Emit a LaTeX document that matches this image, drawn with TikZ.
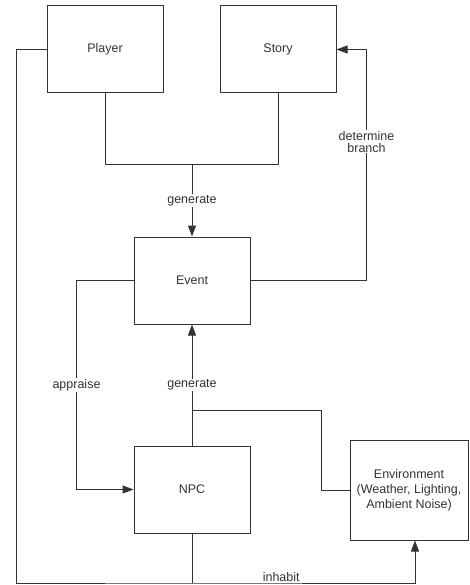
\documentclass[tikz,border=0pt]{standalone}
\usepackage{fontspec}
\setmainfont{Liberation Sans}
\usetikzlibrary{arrows.meta}
\definecolor{ink}{HTML}{333333}

\begin{document}
\begin{tikzpicture}[
  x=1pt, y=-1pt,
  font=\fontsize{12.5}{15}\selectfont,
  box/.style   = {draw=ink, line width=1pt, rectangle, minimum width=116pt,
                  minimum height=87pt, align=center, text=ink},
  envbox/.style = {box, minimum width=118pt, minimum height=100pt},
  wire/.style  = {draw=ink, line width=1pt},
  arr/.style   = {wire, -{Triangle[length=11pt,width=8pt]}},
  lbl/.style   = {fill=white, inner sep=1pt, text=ink, align=center,
                  font=\fontsize{12.5}{12}\selectfont},
]
\useasboundingbox (0,0) rectangle (469,585);

% --- boxes ---------------------------------------------------------------
\node[box] (player) at (105,49.5) {Player};
\node[box] (story)  at (278,49.5) {Story};
\node[box] (event)  at (192,280.5) {Event};
\node[box] (npc)    at (192,489.5) {NPC};
\node[envbox] (env) at (409,490) {Environment\\(Weather, Lighting,\\Ambient Noise)};

% --- junctions -----------------------------------------------------------
\coordinate (merge)  at (192,165);
\coordinate (envtap) at (192,410);
\coordinate (floor)  at (192,583);

% --- player + story generate event ---------------------------------------
\draw[wire] (player.south) |- (merge);
\draw[wire] (story.south) |- (merge);
\draw[arr] (merge) -- node[lbl] {generate} (event.north);

% --- event determines story branch ---------------------------------------
\draw[arr] (event.east) -- ++(116,0)
  |- node[lbl, pos=0.3] {determine\\branch} (story.east);

% --- npc appraises event, generates event --------------------------------
\draw[arr] (event.west) -- ++(-57,0)
  |- node[lbl, pos=0.25] {appraise} (npc.west);
\draw[arr] (npc.north) -- node[lbl] {generate} (event.south);

% --- environment link ----------------------------------------------------
\draw[wire] (envtap) -- ++(129,0) |- (env.west);

% --- inhabit loop along the bottom ---------------------------------------
\draw[wire] (npc.south) -- (floor);
\draw[arr] (player.west) -- ++(-30,0) |- (floor)
  -| node[lbl, pos=0.2, anchor=base, yshift=1.5pt, inner sep=0.5pt] {inhabit}
  ([xshift=6pt]env.south);

\end{tikzpicture}
\end{document}
